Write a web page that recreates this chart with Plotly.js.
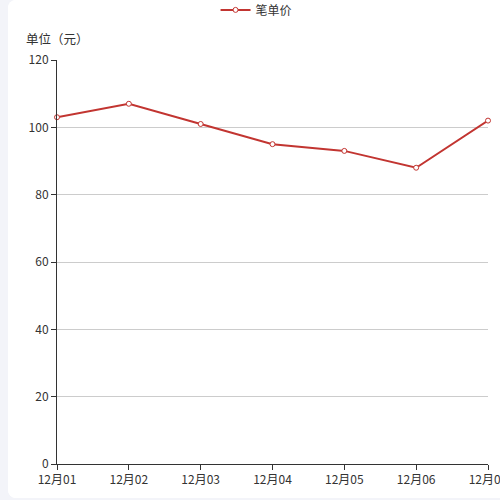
<!DOCTYPE html>
<html>
<head>
<meta charset="utf-8">
<script src="https://cdn.plot.ly/plotly-3.0.1.min.js"></script>
<style>
  html, body { margin: 0; padding: 0; width: 500px; height: 500px; overflow: hidden; background: #f3f4f9; }
  #card { position: absolute; left: 8px; top: 0; width: 500px; height: 498px; background: #fff; border-radius: 8px; overflow: hidden; }
  #chart { width: 500px; height: 498px; }
</style>
</head>
<body>
<div id="card"><div id="chart"></div></div>
<script>
// 笔单价 by day
const days   = ['12月01', '12月02', '12月03', '12月04', '12月05', '12月06', '12月07'];
const prices = [103, 107, 101, 95, 93, 88, 102];
const yTicks = [0, 20, 40, 60, 80, 100, 120];

const RED  = '#c23531';
const FONT = '"Noto Sans CJK SC", "Noto Sans", sans-serif';

Plotly.newPlot('chart', [{
  x: days, y: prices,
  type: 'scatter', mode: 'lines+markers',
  name: '笔单价',
  line:   { color: RED, width: 2 },
  marker: { symbol: 'circle', size: 5, color: '#fff', line: { color: RED, width: 1 } },
  cliponaxis: false,
}], {
  width: 500, height: 498,
  paper_bgcolor: '#fff', plot_bgcolor: '#fff',
  margin: { t: 60, b: 34, l: 49, r: 20, autoexpand: false },
  font: { family: FONT, size: 12, color: '#333' },
  showlegend: true,
  legend: {
    orientation: 'h', x: 0.463, xanchor: 'center',
    yref: 'paper', y: 1.124, yanchor: 'middle',
    font: { family: FONT, size: 12, color: '#333' },
  },
  xaxis: {
    type: 'category', range: [0, 6],
    showgrid: false, zeroline: false,
    showline: true, linecolor: '#333', linewidth: 1,
    ticks: 'outside', ticklen: 5, tickcolor: '#333',
    tickfont: { family: FONT, size: 12, color: '#333' },
    fixedrange: true,
  },
  yaxis: {
    range: [0, 120], tickvals: yTicks,
    showgrid: true, gridcolor: '#ccc', gridwidth: 1, zeroline: false,
    showline: true, linecolor: '#333', linewidth: 1,
    ticks: 'outside', ticklen: 5, tickcolor: '#333',
    tickfont: { family: FONT, size: 12, color: '#333' },
    fixedrange: true,
  },
  annotations: [{
    text: '单位（元）', showarrow: false,
    xref: 'paper', yref: 'paper', x: 0, y: 1,
    xanchor: 'center', yanchor: 'middle', xshift: 0, yshift: 22,
    font: { family: FONT, size: 12.5, color: '#333' },
  }],
}, { displayModeBar: false, staticPlot: true });
</script>
</body>
</html>
